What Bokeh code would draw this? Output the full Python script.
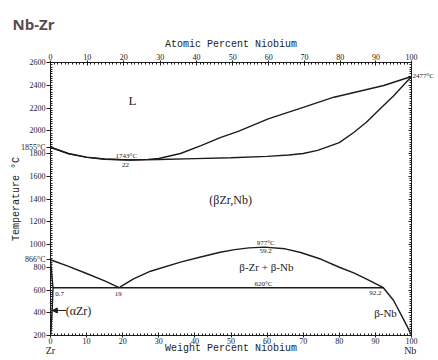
from bokeh.plotting import figure
from bokeh.models import (LinearAxis, Range1d, SingleIntervalTicker, FixedTicker,
                          CustomJSTickFormatter, Label, Arrow, NormalHead, Title, AllLabels)
from bokeh.embed import file_html
from bokeh.resources import INLINE

# ---------------- data (weight % Nb, temperature in deg C) ----------------
liq_wt = [0, 5, 10, 15, 22, 27, 30, 36, 41.7, 47, 52, 60.3, 70, 78.5, 85, 92.3, 100]
liq_T = [1855, 1800, 1768, 1752, 1743, 1748, 1756, 1800, 1870, 1940, 1995, 2105, 2205, 2295, 2343, 2398, 2477]

sol_wt = [0, 5, 10, 15, 22, 30, 40, 50, 60, 66, 70, 74, 80, 84, 87.5, 91.4, 95, 100]
sol_T = [1855, 1797, 1766, 1750, 1743, 1747, 1755, 1763, 1775, 1787, 1800, 1828, 1895, 1985, 2075, 2195, 2305, 2477]

bzr_wt = [0, 5, 10, 15, 19]
bzr_T = [866, 808, 745, 680, 620]

dome_wt = [19, 20, 23, 27.7, 36, 41.6, 47, 51, 55, 59.2, 65, 69.3, 75, 80, 84, 88, 92.2, 95, 97, 98.8, 100]
dome_T = [620, 640, 698, 765, 845, 890, 932, 955, 970, 977, 962, 930, 870, 800, 750, 690, 620, 510, 390, 280, 200]

azr_wt = [0, 0.3, 0.6, 0.7, 0.5, 0.25, 0.05]
azr_T = [866, 760, 650, 620, 450, 300, 200]

eut_wt = [0.7, 92.2]
eut_T = [620, 620]

temp_ticks = list(range(200, 2601, 200))
special_T = [1855, 866]          # labelled invariant temperatures on the Zr side
nb_melt_T = 2477                 # melting point of Nb
element_ticks = [0, 100]         # pure Zr / pure Nb
M_NB, M_ZR = 92.906, 91.224
at_major = list(range(0, 101, 10))
at_minor = list(range(0, 101, 1))


def at_to_wt(a):
    return a * M_NB / (a * M_NB + (100 - a) * M_ZR) * 100


LINE = "#1c1c1c"
TXT = "#222222"

p = figure(width=438, height=360, x_range=Range1d(0, 100), y_range=Range1d(200, 2600),
           x_axis_type=None, y_axis_type=None, output_backend="svg", toolbar_location=None,
           min_border_left=50, min_border_right=27, min_border_top=62, min_border_bottom=25)
p.outline_line_color = LINE
p.background_fill_color = "white"
p.border_fill_color = "white"
p.title = Title(text="Nb-Zr", text_font="Open Sans", text_font_size="15px",
                text_color="#5b4b49", text_font_style="bold", align="left", offset=-38,
                standoff=4)


def style(ax, tin, tout, minin, minout, size="8px", standoff=1):
    ax.axis_line_color = LINE
    ax.major_tick_line_color = LINE
    ax.minor_tick_line_color = LINE
    ax.major_tick_in = tin
    ax.major_tick_out = tout
    ax.minor_tick_in = minin
    ax.minor_tick_out = minout
    ax.major_label_text_font = "Liberation Serif"
    ax.major_label_text_font_size = size
    ax.major_label_text_color = TXT
    ax.major_label_standoff = standoff
    ax.major_label_policy = AllLabels()
    ax.axis_label_text_font = "Liberation Mono"
    ax.axis_label_text_font_size = "10px"
    ax.axis_label_text_font_style = "normal"
    ax.axis_label_text_color = TXT


left = LinearAxis(ticker=FixedTicker(ticks=temp_ticks + special_T,
                                     minor_ticks=list(range(200, 2601, 20))),
                  formatter=CustomJSTickFormatter(code="""
                      if (tick == 1855) return "1855°C";
                      if (tick == 866) return "866°C";
                      return tick.toFixed(0);
                  """),
                  axis_label="Temperature °C")
style(left, 0, 4, 2, 0, standoff=1)
left.axis_label_standoff = -4
p.add_layout(left, "left")

right = LinearAxis(ticker=FixedTicker(ticks=temp_ticks + [nb_melt_T],
                                      minor_ticks=list(range(200, 2601, 20))),
                   formatter=CustomJSTickFormatter(code="""
                       return (tick == 2477) ? "2477°C" : "";
                   """))
style(right, 3, 0, 2, 0, size="7px", standoff=1)
p.add_layout(right, "right")

bottom = LinearAxis(ticker=SingleIntervalTicker(interval=10, num_minor_ticks=10))
style(bottom, 3, 2, 2, 0, standoff=0)
p.add_layout(bottom, "below")

# second bottom row: element names under the ends plus the axis title
bottom2 = LinearAxis(ticker=FixedTicker(ticks=element_ticks),
                     formatter=CustomJSTickFormatter(code="""
                         return (tick == 0) ? "Zr" : " Nb";
                     """),
                     axis_label="Weight Percent Niobium")
style(bottom2, 0, 0, 0, 0, size="10px", standoff=-2)
bottom2.axis_line_color = None
bottom2.major_tick_line_color = None
bottom2.minor_tick_line_color = None
bottom2.major_label_text_align = "left"
bottom2.axis_label_standoff = -16
p.add_layout(bottom2, "below")

top = LinearAxis(ticker=FixedTicker(ticks=[at_to_wt(a) for a in at_major],
                                    minor_ticks=[at_to_wt(a) for a in at_minor]),
                 formatter=CustomJSTickFormatter(code="""
                     const w = tick;
                     const a = (w/92.906)/((w/92.906)+((100-w)/91.224))*100;
                     return Math.round(a).toString();
                 """),
                 axis_label="Atomic Percent Niobium")
style(top, 3, 2, 2, 0, standoff=1)
top.axis_label_standoff = 1
p.add_layout(top, "above")

# curves
for xs, ys in [(liq_wt, liq_T), (sol_wt, sol_T), (bzr_wt, bzr_T), (dome_wt, dome_T),
               (azr_wt, azr_T), (eut_wt, eut_T)]:
    p.line(xs, ys, line_color=LINE, line_width=1.4)

p.add_layout(Arrow(end=NormalHead(size=5, fill_color=LINE, line_color=LINE),
                   x_start=4.3, y_start=420, x_end=0.5, y_end=420,
                   line_color=LINE, line_width=1))


def lab(text, x, y, size, font="Liberation Serif", align="center", baseline="middle"):
    p.add_layout(Label(x=x, y=y, text=text, text_font=font, text_font_size=size,
                       text_align=align, text_baseline=baseline, text_color=TXT))


lab("L", 22.7, 2266, "13px")
lab("1743°C", 21, 1782, "7px")
lab("22", 20.8, 1703, "7px")
lab("(βZr,Nb)", 49.9, 1387, "12px")
lab("977°C", 59.6, 1012, "7px")
lab("59.2", 59.6, 942, "7px")
lab("β-Zr + β-Nb", 59.8, 798, "11px")
lab("620°C", 59, 657, "7px")
lab("92.2", 90, 578, "7px")
lab("β-Nb", 92.8, 402, "11px")
lab("0.7", 2.5, 569, "7px")
lab("19", 18.8, 569, "7px")
lab("(αZr)", 4.2, 418, "12px", align="left")

open("out.html", "w").write(file_html(p, INLINE))
